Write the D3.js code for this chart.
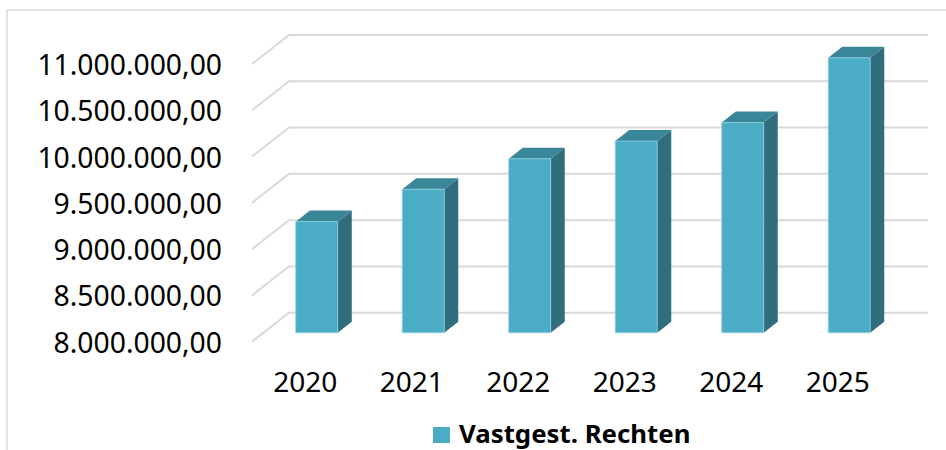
<!DOCTYPE html>
<html>
<head>
<meta charset="utf-8">
<script src="https://cdn.jsdelivr.net/npm/d3@7"></script>
<style>
  html, body { margin: 0; padding: 0; background: #fff; }
  svg { display: block; }
</style>
</head>
<body>
<svg id="chart" width="946" height="450"></svg>
<script>
// ---- data ----
const categories = ["2020", "2021", "2022", "2023", "2024", "2025"];
const values = [9200000, 9550000, 9880000, 10070000, 10270000, 10970000];
const tickValues = [8000000, 8500000, 9000000, 9500000, 10000000, 10500000, 11000000];
const seriesName = "Vastgest. Rechten";

// ---- styling / layout ----
const FONT = "'Noto Sans', 'Open Sans', sans-serif";
const colFront = "#4BACC6", colSide = "#306E7D", colTop = "#3A8699";
const gridCol = "#D9D9D9";
const DX = -37, DY = 29;          // depth vector: back wall -> front plane
const dFront = 0.69, dBack = 0.31; // bar depth position

const svg = d3.select("#chart");
const nl = d3.formatLocale({decimal: ",", thousands: ".", grouping: [3], currency: ["€", ""]});
const fmt = nl.format(",.2f");

const y = d3.scaleLinear().domain([8000000, 11000000]).range([312.7, 35]);
const x = d3.scaleBand().domain(categories).range([289, 928]).paddingInner(0.606).paddingOuter(0.303);
const P = (xb, v, d) => [xb + DX * d, y(v) + DY * d];

// outer frame
svg.append("path")
  .attr("d", `M7,450 L7,10 L946,10`)
  .attr("fill", "none").attr("stroke", gridCol).attr("stroke-width", 1.5);

// gridlines (side wall diagonal + back wall horizontal)
const line = d3.line();
svg.append("g").selectAll("path").data(tickValues).join("path")
  .attr("d", t => line([P(x.range()[0], t, 1), P(x.range()[0], t, 0), [x.range()[1], y(t)]]))
  .attr("fill", "none").attr("stroke", gridCol).attr("stroke-width", 2);

// tick labels
svg.append("g").selectAll("text").data(tickValues).join("text")
  .attr("x", 222)
  .attr("y", t => P(x.range()[0], t, 1)[1] + 11)
  .attr("text-anchor", "end")
  .attr("font-family", FONT).attr("font-size", 28.3).attr("fill", "#000")
  .text(t => fmt(t));

// bars
const base = y.domain()[0];
const bars = svg.append("g").selectAll("g").data(categories.map((c, i) => ({c, v: values[i]}))).join("g");
const poly = pts => "M" + pts.map(p => p.join(",")).join("L") + "Z";
bars.append("path") // side
  .attr("d", d => {
    const x1 = x(d.c) + x.bandwidth();
    return poly([P(x1, d.v, dFront), P(x1, d.v, dBack), P(x1, base, dBack), P(x1, base, dFront)]);
  })
  .attr("fill", colSide);
bars.append("path") // top
  .attr("d", d => {
    const x0 = x(d.c), x1 = x0 + x.bandwidth();
    return poly([P(x0, d.v, dFront), P(x1, d.v, dFront), P(x1, d.v, dBack), P(x0, d.v, dBack)]);
  })
  .attr("fill", colTop);
bars.append("path") // front
  .attr("d", d => {
    const x0 = x(d.c), x1 = x0 + x.bandwidth();
    return poly([P(x0, d.v, dFront), P(x1, d.v, dFront), P(x1, base, dFront), P(x0, base, dFront)]);
  })
  .attr("fill", colFront).attr("stroke", "#8ED0E0").attr("stroke-width", 0.8);

// category labels (front plane)
svg.append("g").selectAll("text").data(categories).join("text")
  .attr("x", c => P(x(c) + x.bandwidth() / 2, base, 1)[0])
  .attr("y", 392)
  .attr("text-anchor", "middle")
  .attr("font-family", FONT).attr("font-size", 28).attr("fill", "#000")
  .text(c => c);

// legend
const lg = svg.append("g");
lg.append("rect").attr("x", 433).attr("y", 427).attr("width", 17).attr("height", 16).attr("fill", colFront);
lg.append("text").attr("x", 459).attr("y", 442.5)
  .attr("font-family", FONT).attr("font-size", 25.8).attr("font-weight", "bold").attr("fill", "#000")
  .text(seriesName);
</script>
</body>
</html>
